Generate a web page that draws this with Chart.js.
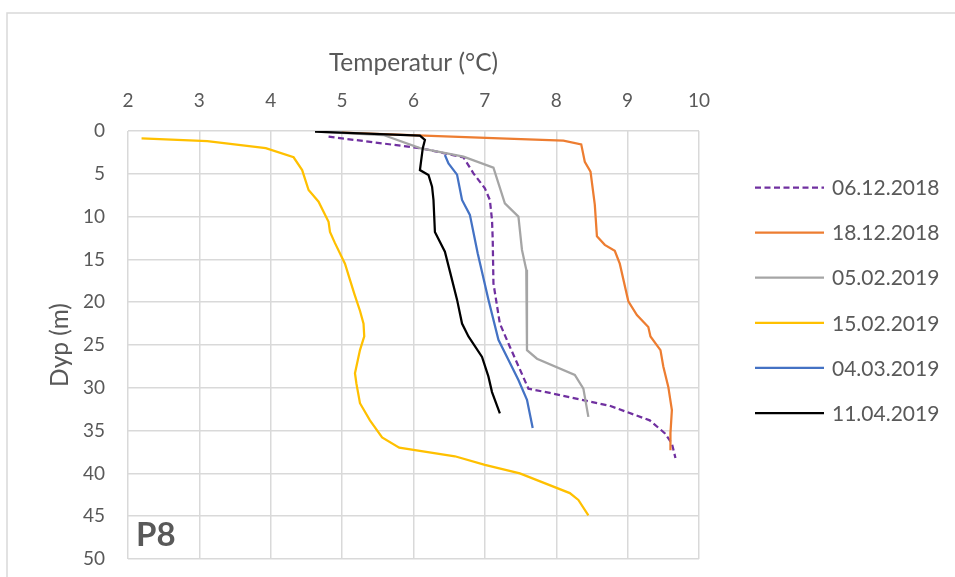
<!DOCTYPE html>
<html lang="no">
<head>
<meta charset="utf-8">
<title>P8 - Temperatur</title>
<script src="https://cdn.jsdelivr.net/npm/chart.js@4"></script>
<style>
  body { margin: 0; background: #fff; }
  canvas { display: block; }
</style>
</head>
<body>
<canvas id="temperaturChart" width="955" height="577"></canvas>
<script>
// Måleserier (dybde i m, temperatur i °C)
const serieNavn = ['06.12.2018', '18.12.2018', '05.02.2019', '15.02.2019', '04.03.2019', '11.04.2019'];
const serieFarger = ['#7030A0', '#ED7D31', '#A5A5A5', '#FFC000', '#4472C4', '#000000'];

const dyp0612 = [0.66, 2.0, 3.07, 4.95, 6.7, 8.06, 10.4, 12.7, 17.8, 22.5, 25.2, 30.1, 30.6, 32.1, 33.8, 35.3, 36.5, 38.2];
const temp0612 = [4.81, 6.09, 6.70, 6.84, 7.00, 7.07, 7.10, 7.11, 7.12, 7.21, 7.35, 7.61, 7.91, 8.75, 9.31, 9.52, 9.62, 9.67];

const dyp1812 = [0.2, 0.86, 1.13, 1.56, 3.6, 4.75, 8.6, 12.3, 13.3, 14.0, 15.5, 19.9, 21.5, 22.9, 24.0, 25.6, 27.5, 29.9, 32.6, 35.3, 37.3];
const temp1812 = [5.0, 7.21, 8.10, 8.35, 8.40, 8.48, 8.54, 8.57, 8.68, 8.82, 8.89, 9.01, 9.13, 9.29, 9.32, 9.46, 9.50, 9.57, 9.62, 9.60, 9.60];

const dyp0502 = [0.1, 0.47, 2.0, 3.0, 4.28, 8.45, 10.0, 13.9, 16.2, 25.6, 26.6, 28.5, 30.1, 33.4];
const temp0502 = [4.7, 5.58, 6.09, 6.70, 7.12, 7.28, 7.47, 7.52, 7.58, 7.59, 7.73, 8.26, 8.38, 8.45];

const dyp1502 = [0.86, 1.17, 2.0, 3.07, 4.56, 6.9, 8.26, 10.6, 11.8, 13.1, 15.5, 17.4, 19.0, 21.0, 22.5, 24.0, 25.6, 28.3, 29.5, 31.8, 33.8, 35.8, 37.0, 38.0, 39.0, 40.0, 42.3, 43.1, 44.9];
const temp1502 = [2.19, 3.11, 3.93, 4.32, 4.44, 4.53, 4.67, 4.81, 4.83, 4.90, 5.04, 5.11, 5.17, 5.25, 5.30, 5.31, 5.25, 5.18, 5.20, 5.25, 5.39, 5.56, 5.80, 6.58, 7.00, 7.49, 8.19, 8.31, 8.45];

const dyp0403 = [2.8, 3.8, 5.1, 8.06, 9.8, 14.3, 19.7, 24.4, 26.4, 29.1, 31.4, 34.7];
const temp0403 = [6.44, 6.49, 6.61, 6.68, 6.79, 6.90, 7.05, 7.19, 7.31, 7.47, 7.59, 7.67];

const dyp1104 = [0.08, 0.55, 1.05, 2.0, 4.56, 5.14, 6.5, 8.06, 11.8, 14.1, 16.4, 19.7, 22.5, 24.0, 26.4, 28.7, 30.5, 33.0];
const temp1104 = [4.62, 6.09, 6.16, 6.13, 6.09, 6.21, 6.26, 6.28, 6.30, 6.44, 6.51, 6.61, 6.68, 6.77, 6.96, 7.05, 7.10, 7.21];

// Akser
const tempTicks = [2, 3, 4, 5, 6, 7, 8, 9, 10];
const dypTicks = [0, 5, 10, 15, 20, 25, 30, 35, 40, 45, 50];

const alleDyp = [dyp0612, dyp1812, dyp0502, dyp1502, dyp0403, dyp1104];
const alleTemp = [temp0612, temp1812, temp0502, temp1502, temp0403, temp1104];

const tekstFarge = '#595959';
const gridFarge = '#D9D9D9';

function lagPunkter(dyp, temp) {
  return dyp.map((d, i) => ({ x: temp[i], y: d }));
}

// Ramme rundt diagrammet, legende og P8-etikett
const tegnEkstra = {
  id: 'tegnEkstra',
  beforeDraw(chart) {
    const ctx = chart.ctx;
    ctx.save();
    ctx.strokeStyle = gridFarge;
    ctx.lineWidth = 1.5;
    ctx.strokeRect(7, 13, 960, 580);
    ctx.restore();
  },
  afterDraw(chart) {
    const ctx = chart.ctx;
    ctx.save();
    chart.data.datasets.forEach((ds, i) => {
      const y = 187.5 + i * 45.1;
      ctx.beginPath();
      ctx.strokeStyle = ds.borderColor;
      ctx.lineWidth = 2.25;
      ctx.setLineDash(ds.borderDash || []);
      ctx.moveTo(755, y);
      ctx.lineTo(824, y);
      ctx.stroke();
      ctx.setLineDash([]);
      ctx.fillStyle = tekstFarge;
      ctx.font = '21px Lato';
      ctx.textBaseline = 'middle';
      ctx.textAlign = 'left';
      ctx.fillText(ds.label, 832, y + 1);
    });
    ctx.fillStyle = tekstFarge;
    ctx.font = 'bold 33px Lato';
    ctx.textBaseline = 'alphabetic';
    ctx.fillText('P8', 136, 546);
    ctx.restore();
  }
};

document.addEventListener('DOMContentLoaded', function() {
  Chart.defaults.font.family = 'Lato';
  Chart.defaults.color = tekstFarge;

  const datasets = serieNavn.map((navn, i) => ({
    label: navn,
    data: lagPunkter(alleDyp[i], alleTemp[i]),
    borderColor: serieFarger[i],
    backgroundColor: serieFarger[i],
    borderWidth: 2.25,
    borderDash: i === 0 ? [6, 3.5] : [],
    pointRadius: 0,
    showLine: true,
    tension: 0,
    order: serieNavn.length - 1 - i
  }));

  const ctx = document.getElementById('temperaturChart').getContext('2d');
  new Chart(ctx, {
    type: 'scatter',
    data: { datasets: datasets },
    plugins: [tegnEkstra],
    options: {
      responsive: false,
      animation: false,
      layout: { padding: { top: 48, left: 45, right: 256, bottom: 18 } },
      plugins: {
        legend: { display: false },
        tooltip: { enabled: false }
      },
      scales: {
        x: {
          type: 'linear',
          position: 'top',
          min: 2,
          max: 10,
          afterBuildTicks: (scale) => { scale.ticks = tempTicks.map(v => ({ value: v })); },
          afterFit: (scale) => { scale.height = 83; },
          ticks: { padding: 19, font: { size: 19 }, color: tekstFarge },
          grid: { color: gridFarge, lineWidth: 1.5, drawTicks: false },
          border: { display: false },
          title: {
            display: true,
            text: 'Temperatur (°C)',
            font: { size: 24.5 },
            color: tekstFarge,
            padding: 0
          }
        },
        y: {
          type: 'linear',
          reverse: true,
          min: 0,
          max: 50,
          afterBuildTicks: (scale) => { scale.ticks = dypTicks.map(v => ({ value: v })); },
          afterFit: (scale) => {
            scale.width = 83;
            scale.paddingTop = 0;
            scale.paddingBottom = 0;
          },
          ticks: { padding: 23, font: { size: 19 }, color: tekstFarge },
          grid: { color: gridFarge, lineWidth: 1.5, drawTicks: false },
          border: { display: false },
          title: {
            display: true,
            text: 'Dyp (m)',
            font: { size: 24.5 },
            color: tekstFarge,
            padding: 0
          }
        }
      }
    }
  });
});
</script>
</body>
</html>
